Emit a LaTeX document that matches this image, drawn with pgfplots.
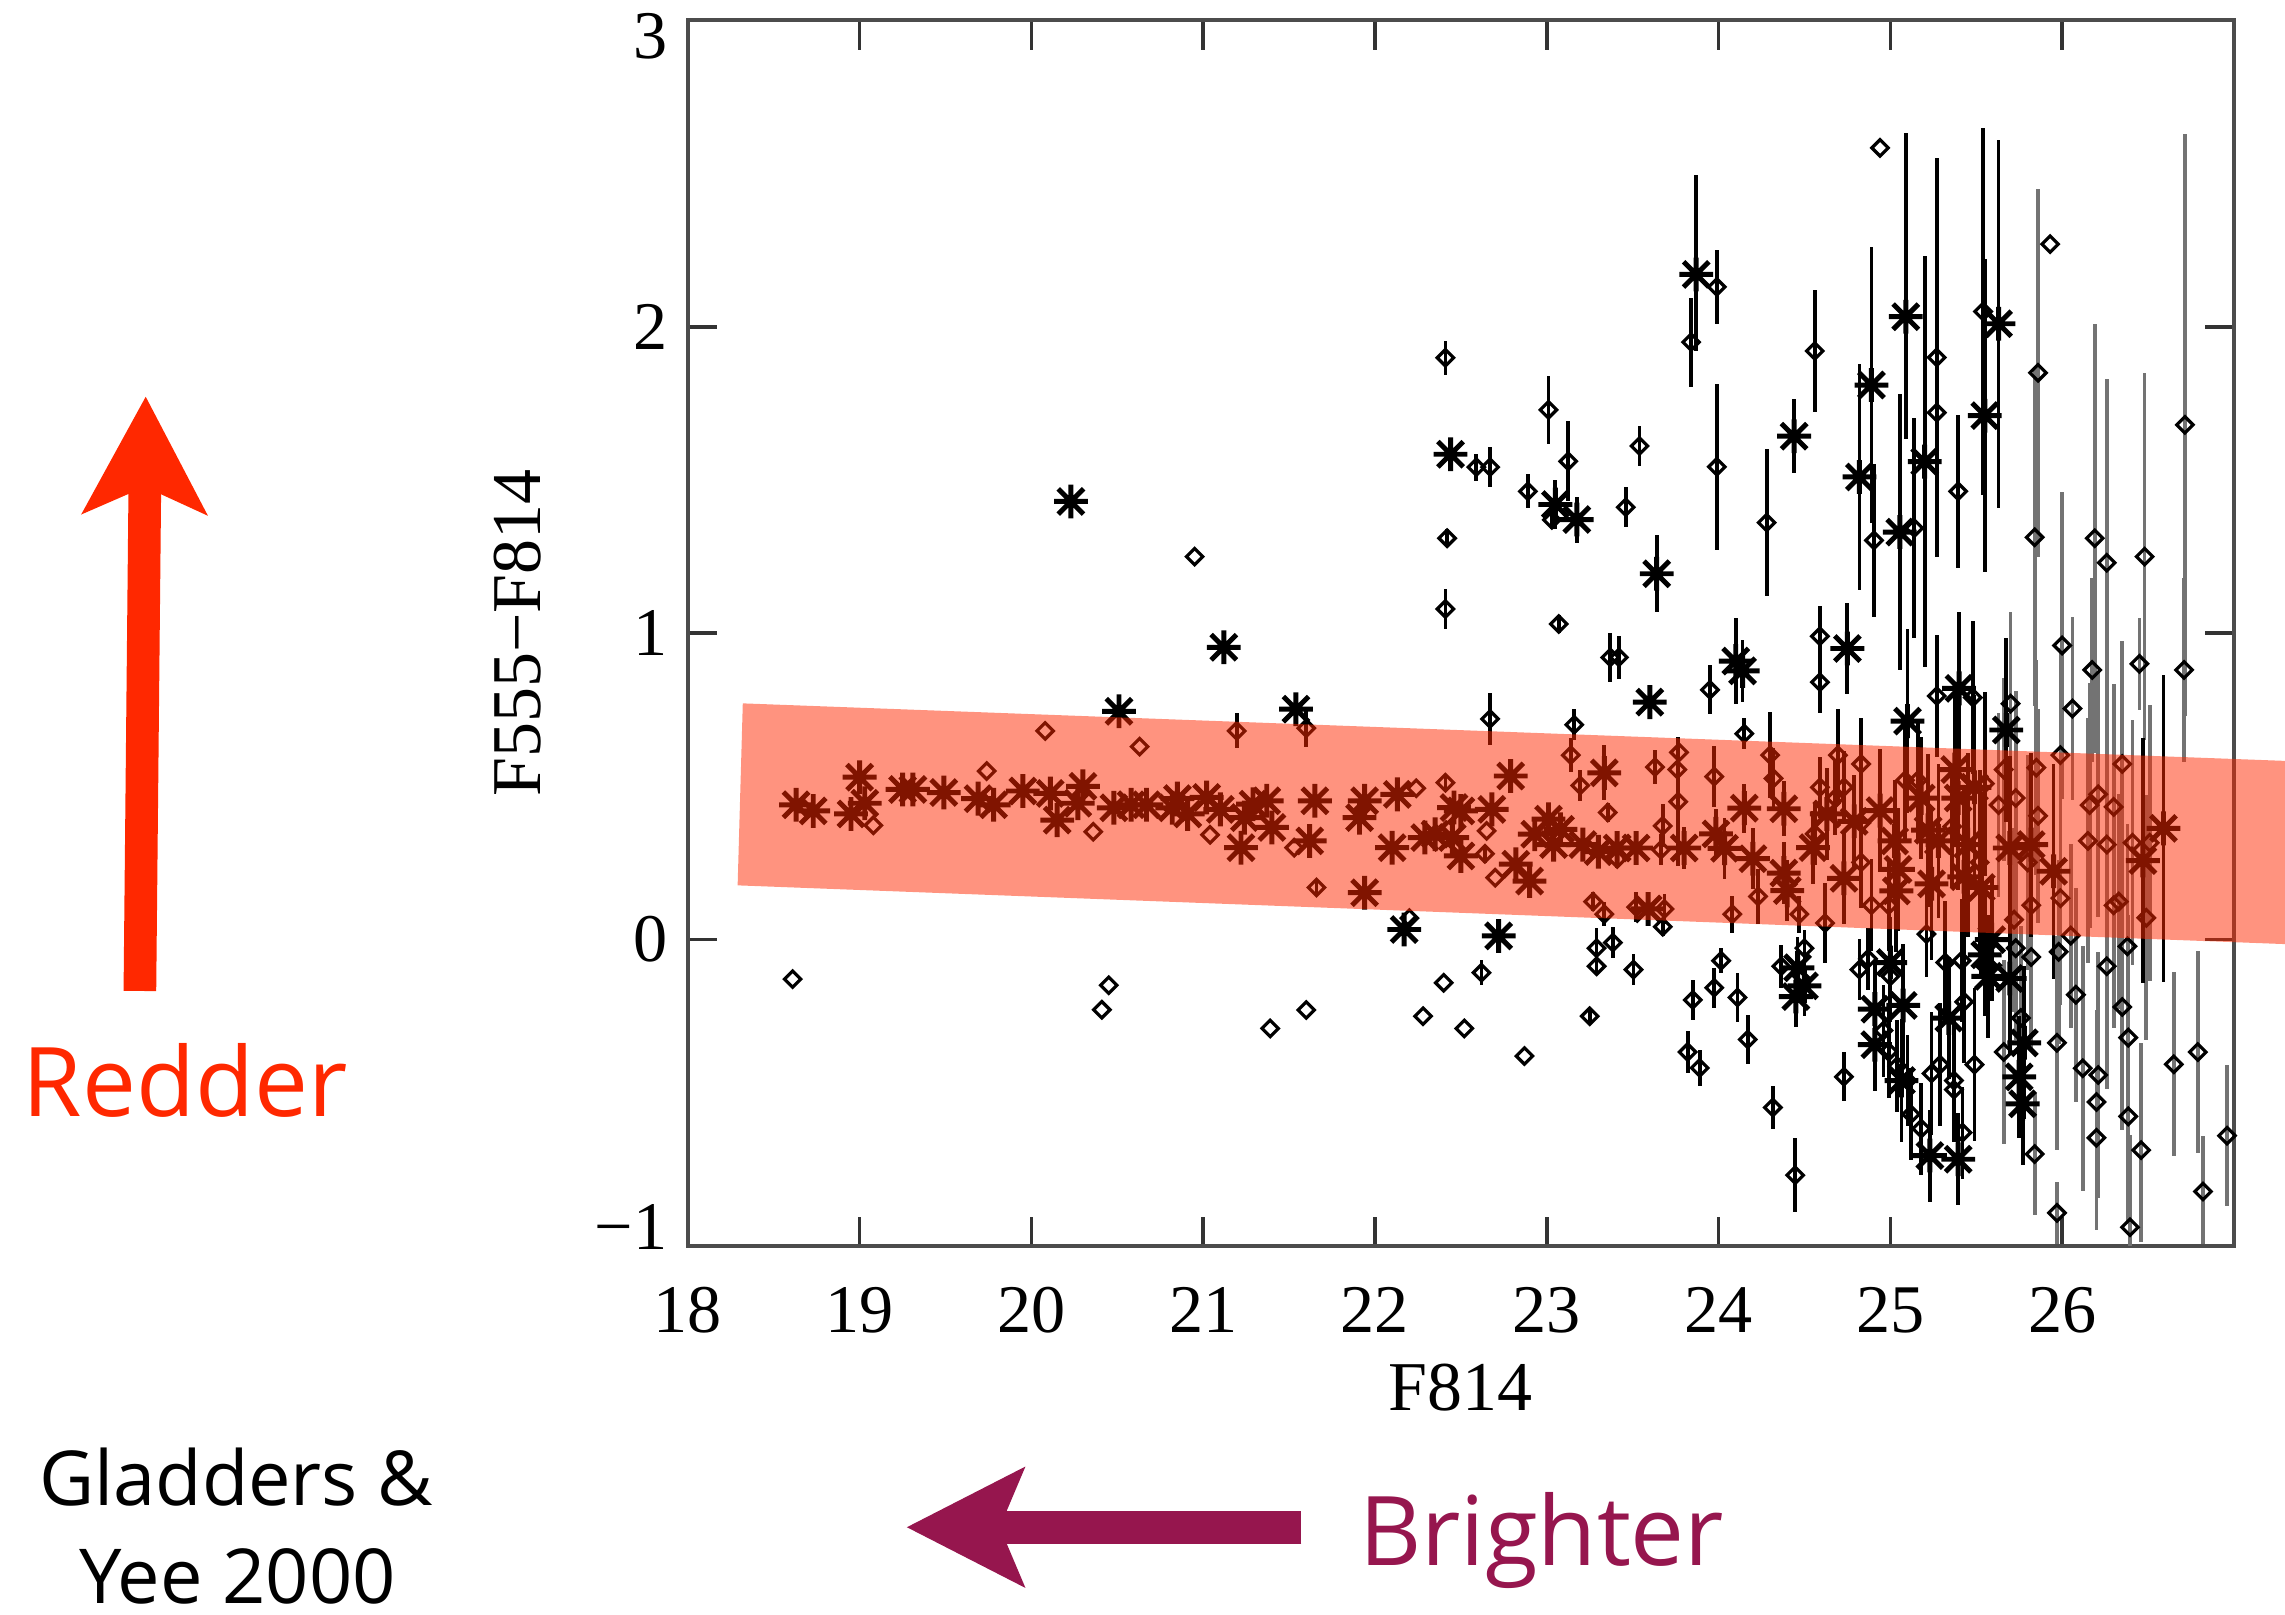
\documentclass[border=0pt]{standalone}
\usepackage{fontspec}
\setmainfont{Liberation Serif}
\newfontfamily\annfont{Open Sans}
\usepackage{pgfplots}
\usepackage{pgfplotstable}
\pgfplotsset{compat=1.18}
\usetikzlibrary{arrows.meta}
\definecolor{redder}{RGB}{255,40,0}
\definecolor{brighter}{RGB}{150,22,78}

% IDL-style asterisk (+ and x) and open diamond
\pgfdeclareplotmark{ast}{%
  \pgfpathmoveto{\pgfqpoint{-\pgfplotmarksize}{0pt}}\pgfpathlineto{\pgfqpoint{\pgfplotmarksize}{0pt}}%
  \pgfpathmoveto{\pgfqpoint{0pt}{-\pgfplotmarksize}}\pgfpathlineto{\pgfqpoint{0pt}{\pgfplotmarksize}}%
  \pgfpathmoveto{\pgfqpoint{-0.75\pgfplotmarksize}{-0.75\pgfplotmarksize}}\pgfpathlineto{\pgfqpoint{0.75\pgfplotmarksize}{0.75\pgfplotmarksize}}%
  \pgfpathmoveto{\pgfqpoint{-0.75\pgfplotmarksize}{0.75\pgfplotmarksize}}\pgfpathlineto{\pgfqpoint{0.75\pgfplotmarksize}{-0.75\pgfplotmarksize}}%
  \pgfusepathqstroke}
\pgfdeclareplotmark{dia}{%
  \pgfpathmoveto{\pgfqpoint{\pgfplotmarksize}{0pt}}%
  \pgfpathlineto{\pgfqpoint{0pt}{\pgfplotmarksize}}%
  \pgfpathlineto{\pgfqpoint{-\pgfplotmarksize}{0pt}}%
  \pgfpathlineto{\pgfqpoint{0pt}{-\pgfplotmarksize}}%
  \pgfpathclose\pgfusepathqstroke}

% asterisks: x y err+ err-
\pgfplotstableread{
x y ep em
18.63 0.44 0 0
18.73 0.42 0 0
18.95 0.41 0 0
19.00 0.53 0 0
19.03 0.445 0 0
19.25 0.49 0 0
19.31 0.49 0 0
19.49 0.48 0 0
19.69 0.46 0 0
19.78 0.44 0 0
19.95 0.485 0 0
20.11 0.477 0 0
20.15 0.39 0 0
20.23 1.43 0 0
20.27 0.445 0 0
20.30 0.50 0 0
20.48 0.43 0 0
20.51 0.745 0 0
20.58 0.44 0 0
20.67 0.44 0 0
20.82 0.43 0 0
20.85 0.46 0 0
20.91 0.41 0 0
21.02 0.464 0 0
21.10 0.425 0 0
21.12 0.954 0 0
21.22 0.30 0 0
21.24 0.398 0 0
21.29 0.442 0 0
21.37 0.453 0 0
21.40 0.366 0 0
21.54 0.752 0 0
21.62 0.322 0 0
21.65 0.453 0 0
21.91 0.398 0 0
21.94 0.453 0 0
21.94 0.153 0 0
22.10 0.30 0 0
22.13 0.474 0 0
22.17 0.033 0 0
22.29 0.333 0 0
22.35 0.344 0 0
22.44 1.584 0 0
22.45 0.333 0 0
22.46 0.431 0 0
22.50 0.42 0 0
22.50 0.273 0 0
22.68 0.425 0 0
22.72 0.012 0 0
22.79 0.534 0 0
22.82 0.246 0 0
22.90 0.191 0 0
22.93 0.344 0.02 0.02
23.01 0.393 0.02 0.02
23.04 0.31 0.03 0.03
23.05 1.42 0.08 0.08
23.08 0.36 0.03 0.03
23.175 1.371 0.075 0.075
23.21 0.31 0.03 0.03
23.30 0.287 0.04 0.04
23.335 0.544 0.09 0.09
23.41 0.299 0.04 0.04
23.52 0.299 0.05 0.05
23.59 0.10 0.05 0.05
23.60 0.775 0.05 0.05
23.64 1.194 0.125 0.125
23.80 0.299 0.07 0.07
23.87 2.171 0.325 0.25
23.985 0.345 0.08 0.08
24.035 0.298 0.1 0.1
24.10 0.909 0.14 0.14
24.14 0.877 0.1 0.1
24.15 0.429 0.08 0.08
24.20 0.264 0.1 0.1
24.38 0.427 0.09 0.09
24.38 0.217 0.1 0.1
24.40 0.16 0.1 0.1
24.44 1.643 0.12 0.12
24.46 -0.092 0.1 0.1
24.50 -0.151 0.1 0.1
24.45 -0.186 0.1 0.1
24.55 0.30 0.12 0.12
24.63 0.41 0.15 0.15
24.73 0.20 0.15 0.15
24.75 0.95 0.15 0.15
24.79 0.386 0.15 0.15
24.82 1.51 0.37 0.37
24.89 1.81 0.45 0.45
24.91 -0.227 0.15 0.15
24.91 -0.343 0.15 0.15
24.94 0.421 0.2 0.2
25.00 -0.075 0.15 0.15
25.025 0.322 0.2 0.2
25.035 0.159 0.2 0.2
25.045 0.229 0.2 0.2
25.055 1.33 0.45 0.45
25.065 -0.46 0.2 0.2
25.075 -0.215 0.2 0.2
25.09 2.033 0.6 0.4
25.10 0.713 0.3 0.3
25.18 0.462 0.2 0.2
25.20 1.56 0.67 0.67
25.22 0.357 0.25 0.25
25.23 -0.705 0.15 0.15
25.24 0.182 0.25 0.25
25.28 0.322 0.25 0.25
25.34 -0.256 0.2 0.2
25.375 0.555 0.25 0.25
25.395 0.462 0.3 0.3
25.395 -0.717 0.15 0.15
25.40 0.82 0.25 0.25
25.43 0.205 0.3 0.3
25.45 0.31 0.3 0.3
25.49 0.497 0.3 0.3
25.53 0.17 0.3 0.3
25.55 1.71 0.51 0.51
25.55 -0.05 0.2 0.2
25.57 -0.12 0.2 0.2
25.59 0.0 0.2 0.2
25.63 2.01 0.6 0.6
25.675 0.684 0.3 0.3
25.695 0.299 0.3 0.3
25.695 -0.127 0.25 0.25
25.75 -0.448 0.2 0.2
25.77 -0.536 0.2 0.2
25.78 -0.337 0.25 0.25
25.82 0.31 0.3 0.3
25.95 0.223 0.35 0.35
26.47 0.258 0.4 0.4
26.59 0.363 0.5 0.5
}\astdata

% diamonds, black error bars
\pgfplotstableread{
x y ep em
18.61 -0.129 0 0
19.08 0.373 0 0
19.74 0.55 0 0
20.08 0.681 0 0
20.36 0.352 0 0
20.41 -0.229 0 0
20.45 -0.149 0 0
20.63 0.63 0 0
20.95 1.25 0 0
21.04 0.342 0 0
21.195 0.681 0.057 0.057
21.39 -0.29 0 0
21.53 0.30 0 0
21.60 0.69 0.06 0.06
21.60 -0.23 0 0
21.66 0.17 0.02 0.02
22.20 0.07 0 0
22.24 0.494 0 0
22.28 -0.25 0 0
22.40 -0.141 0 0
22.41 1.899 0.055 0.055
22.41 1.079 0.065 0.065
22.41 0.512 0.03 0.03
22.42 1.31 0.03 0.03
22.52 -0.29 0 0
22.59 1.542 0.044 0.044
22.62 -0.108 0.04 0.04
22.64 0.28 0.03 0.03
22.65 0.355 0 0
22.67 1.542 0.065 0.065
22.67 0.72 0.085 0.085
22.70 0.202 0 0
22.87 -0.38 0 0
22.89 1.463 0.055 0.055
23.01 1.729 0.11 0.11
23.03 1.37 0.03 0.03
23.07 1.03 0.03 0.03
23.125 1.561 0.13 0.13
23.14 0.602 0.055 0.055
23.16 0.701 0.05 0.05
23.195 0.503 0.05 0.05
23.25 -0.25 0.02 0.02
23.27 0.124 0.03 0.03
23.29 -0.028 0.065 0.065
23.29 -0.087 0.03 0.03
23.335 0.083 0.04 0.04
23.355 0.415 0.03 0.03
23.37 0.921 0.08 0.08
23.385 -0.01 0.05 0.05
23.41 0.263 0.03 0.03
23.42 0.921 0.07 0.07
23.46 1.411 0.065 0.065
23.505 -0.098 0.05 0.05
23.52 0.106 0.05 0.05
23.54 1.611 0.065 0.065
23.63 0.563 0.055 0.055
23.665 0.293 0.05 0.05
23.675 0.371 0.07 0.07
23.675 0.042 0.03 0.03
23.685 0.10 0.05 0.05
23.765 0.45 0.21 0.21
23.76 0.555 0 0
23.77 0.611 0 0
23.82 -0.367 0.07 0.07
23.84 1.95 0.145 0.145
23.85 -0.197 0.065 0.065
23.89 -0.419 0.06 0.06
23.95 0.815 0.08 0.08
23.975 0.532 0.1 0.1
23.975 -0.157 0.065 0.065
23.99 2.13 0.12 0.12
23.99 1.543 0.27 0.27
24.015 -0.069 0.04 0.04
24.08 0.083 0.06 0.06
24.11 -0.189 0.08 0.08
24.15 0.672 0.05 0.05
24.17 -0.326 0.08 0.08
24.23 0.141 0.09 0.09
24.28 1.361 0.24 0.24
24.30 0.602 0.14 0.14
24.316 -0.548 0.07 0.07
24.32 0.526 0.1 0.1
24.365 -0.087 0.07 0.07
24.446 -0.769 0.12 0.12
24.47 0.083 0.06 0.06
24.50 -0.028 0.06 0.06
24.56 1.921 0.2 0.2
24.56 0.345 0.1 0.1
24.59 0.497 0.1 0.1
24.59 0.99 0.1 0.1
24.59 0.84 0.1 0.1
24.62 0.054 0.13 0.13
24.68 0.462 0.12 0.12
24.695 0.602 0.15 0.15
24.73 0.497 0.12 0.12
24.73 -0.448 0.08 0.08
24.82 -0.098 0.1 0.1
24.83 0.573 0.15 0.15
24.83 0.38 0.15 0.15
24.83 0.252 0.15 0.15
24.87 -0.063 0.1 0.1
24.89 0.112 0.15 0.15
24.905 1.303 0.25 0.25
24.94 2.584 0 0
24.96 -0.297 0.15 0.15
24.99 0.112 0.15 0.15
24.99 -0.366 0.15 0.15
25.00 -0.12 0.15 0.15
25.04 -0.413 0.15 0.15
25.085 0.52 0.2 0.2
25.10 -0.46 0.15 0.15
25.12 -0.57 0.15 0.15
25.14 1.343 0.36 0.36
25.16 0.52 0.2 0.2
25.18 -0.617 0.15 0.15
25.21 0.018 0.14 0.14
25.24 -0.437 0.2 0.2
25.27 1.9 0.65 0.65
25.27 1.72 0 0
25.27 0.795 0.2 0.2
25.29 -0.408 0.2 0.2
25.32 -0.075 0.2 0.2
25.36 0.369 0.2 0.2
25.37 -0.46 0.2 0.2
25.37 -0.49 0 0
25.395 1.463 0.25 0.25
25.415 -0.069 0.2 0.2
25.42 -0.63 0.15 0.15
25.43 -0.203 0.2 0.2
25.48 0.79 0.25 0.25
25.49 -0.408 0.25 0.25
25.52 0.252 0.3 0.3
25.54 2.05 0.6 0.6
25.55 0.509 0.3 0.3
}\diadata

% diamonds, grey error bars (faint end)
\pgfplotstableread{
x y ep em
25.63 0.439 0.3 0.3
25.66 0.555 0.3 0.3
25.66 -0.367 0.3 0.3
25.70 0.77 0.3 0.3
25.72 0.065 0.3 0.3
25.73 0.462 0.35 0.35
25.73 -0.028 0.3 0.3
25.76 -0.256 0.3 0.3
25.80 0.252 0.35 0.35
25.82 0.112 0.35 0.35
25.82 -0.057 0.3 0.3
25.84 1.313 0.55 0.55
25.84 -0.70 0.2 0.2
25.85 0.561 0.35 0.35
25.86 1.85 0.6 0.6
25.86 0.404 0.35 0.35
25.93 2.27 0 0
25.97 -0.337 0.35 0.35
25.97 -0.892 0.1 0.1
25.98 -0.04 0.3 0.3
25.99 0.602 0.35 0.35
25.99 0.135 0.35 0.35
26.00 0.96 0.5 0.5
26.05 0.013 0.3 0.3
26.06 0.754 0.3 0.3
26.08 -0.18 0.35 0.35
26.12 -0.42 0.4 0.4
26.15 0.322 0.4 0.4
26.16 0.439 0.4 0.4
26.175 0.88 0.3 0.3
26.19 1.31 0.7 0.7
26.20 -0.53 0.3 0.3
26.20 -0.647 0.3 0.3
26.21 0.474 0.4 0.4
26.21 -0.442 0.4 0.4
26.26 1.23 0.6 0.6
26.26 0.31 0.4 0.4
26.26 -0.087 0.4 0.4
26.30 0.433 0.4 0.4
26.30 0.112 0.4 0.4
26.33 0.124 0.35 0.35
26.35 0.573 0.4 0.4
26.35 -0.22 0.4 0.4
26.38 -0.022 0.4 0.4
26.385 -0.32 0.4 0.4
26.385 -0.577 0.35 0.35
26.395 -0.939 0.3 0.06
26.41 0.316 0.4 0.4
26.45 0.90 0.15 0.15
26.46 -0.687 0.35 0.3
26.48 1.25 0.6 0.6
26.49 0.071 0.4 0.4
26.51 0.316 0.45 0.45
26.65 -0.407 0.3 0.3
26.71 0.88 0.3 0.3
26.715 1.68 0.95 0.95
26.79 -0.367 0.33 0.33
26.82 -0.822 0.18 0.17
26.96 -0.64 0.23 0.23
}\faintdata

\begin{document}
\begin{tikzpicture}
\begin{axis}[
  set layers,
  at={(0,0)}, anchor=south west,
  scale only axis, width=265.25pt, height=210.25pt,
  xmin=18, xmax=27, ymin=-1, ymax=3,
  xtick={18,...,26}, ytick={-1,0,1,2,3},
  xticklabels={18,19,20,21,22,23,24,25,26},
  yticklabels={\raisebox{3.25pt}[\height][\depth]{−1},0,1,2,\raisebox{-2.75pt}[\height][\depth]{3}},
  tick align=inside, major tick length=5pt, minor tick num=0,
  axis line style={black!70, line width=0.7pt},
  every tick/.style={black!80, line width=0.6pt},
  tick label style={font=\fontsize{11.7}{14}\selectfont},
  xticklabel style={yshift=-3.5pt},
  xlabel={F814}, ylabel={F555−F814},
  label style={font=\fontsize{12}{14}\selectfont},
  xlabel style={at={(axis description cs:0.5,0)}, anchor=base, yshift=-28.25pt},
  ylabel style={at={(axis description cs:-0.1103,0.5)}, anchor=center},
  clip=false,
  error bars/y dir=both, error bars/y explicit, error bars/error mark=none,
]
\addplot[only marks, mark=dia, mark size=1.4pt, mark options={line width=0.55pt}, black,
  error bars/error bar style={line width=0.65pt, black!55}]
  table[x=x, y=y, y error plus=ep, y error minus=em] {\faintdata};
\addplot[only marks, mark=dia, mark size=1.4pt, mark options={line width=0.55pt}, black,
  error bars/error bar style={line width=0.65pt, black}]
  table[x=x, y=y, y error plus=ep, y error minus=em] {\diadata};
\addplot[only marks, mark=ast, mark size=2.9pt, mark options={line width=0.85pt}, black,
  error bars/error bar style={line width=0.65pt, black}]
  table[x=x, y=y, y error plus=ep, y error minus=em] {\astdata};
% red-sequence band, over the points
\addplot[on layer=axis foreground, draw=none, fill=redder, fill opacity=0.5]
  coordinates {(18.32,0.771) (27.31,0.583) (27.31,-0.015) (18.29,0.177)} -- cycle;
\coordinate (O) at (rel axis cs:0,0);
\end{axis}

% annotations, placed in reference pixel units
\begin{scope}[shift={(O)}, xshift=-118pt, yshift=213.75pt, x=0.25pt, y=-0.25pt]
  \draw[redder, line width=5.6pt, -{Stealth[length=20pt, width=21pt, inset=4.5pt]}]
    (96,680) -- (100,272);
  \node[anchor=base, inner sep=0pt, text=redder, font=\annfont\fontsize{16.5}{18}\selectfont]
    at (127,766) {Redder};
  \draw[brighter, line width=5.6pt, -{Stealth[length=20pt, width=20pt, inset=4pt]}]
    (893,1048) -- (622,1048);
  \node[anchor=base, inner sep=0pt, text=brighter, font=\annfont\fontsize{16.5}{18}\selectfont]
    at (1058,1074) {Brighter};
  \node[anchor=base, inner sep=0pt, font=\annfont\fontsize{13}{15}\selectfont]
    at (162,1033) {Gladders \&};
  \node[anchor=base, inner sep=0pt, font=\annfont\fontsize{13}{15}\selectfont]
    at (163,1100) {Yee 2000};
  \pgfresetboundingbox
  \useasboundingbox (0,0) rectangle (1568,1108);
\end{scope}
\end{tikzpicture}
\end{document}
